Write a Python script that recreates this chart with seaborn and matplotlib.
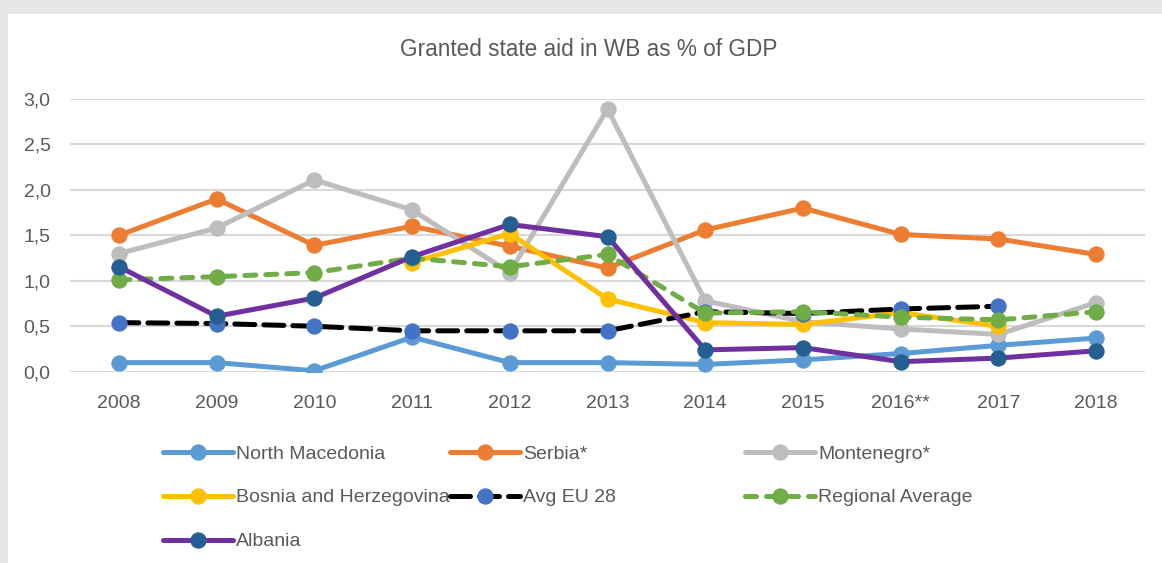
import numpy as np
import pandas as pd
import matplotlib
matplotlib.use('Agg')
import matplotlib.pyplot as plt
import seaborn as sns
from matplotlib.patches import Rectangle
from matplotlib.ticker import FuncFormatter

# Datos (NaN = sin dato)
years = ['2008', '2009', '2010', '2011', '2012', '2013', '2014', '2015', '2016**', '2017', '2018']
north_macedonia = [0.10, 0.10, 0.01, 0.38, 0.10, 0.10, 0.08, 0.13, 0.20, 0.29, 0.37]
serbia = [1.50, 1.90, 1.39, 1.60, 1.38, 1.14, 1.56, 1.80, 1.51, 1.46, 1.29]
montenegro = [1.30, 1.58, 2.11, 1.78, 1.09, 2.89, 0.78, 0.55, 0.47, 0.41, 0.76]
bosnia = [np.nan, np.nan, np.nan, 1.20, 1.52, 0.80, 0.54, 0.52, 0.65, 0.50, np.nan]
avg_eu28 = [0.54, 0.53, 0.50, 0.45, 0.45, 0.45, 0.66, 0.64, 0.69, 0.72, np.nan]
regional_avg = [1.01, 1.045, 1.09, 1.25, 1.155, 1.29, 0.645, 0.66, 0.60, 0.57, 0.66]
albania = [1.155, 0.61, 0.81, 1.265, 1.62, 1.485, 0.24, 0.265, 0.11, 0.15, 0.23]

series = [
    ('North Macedonia', north_macedonia, '#5B9BD5', '#5B9BD5', '-'),
    ('Serbia*', serbia, '#ED7D31', '#ED7D31', '-'),
    ('Montenegro*', montenegro, '#BDBDBD', '#BDBDBD', '-'),
    ('Bosnia and Herzegovina', bosnia, '#FFC000', '#FFC000', '-'),
    ('Avg EU 28', avg_eu28, '#000000', '#4472C4', (0, (4, 1.8))),
    ('Regional Average', regional_avg, '#70AD47', '#70AD47', (0, (2.2, 2.0))),
    ('Albania', albania, '#7030A0', '#255E91', '-'),
]

sns.set_style('white')
plt.rcParams['font.family'] = ['Liberation Sans', 'DejaVu Sans']

fig = plt.figure(figsize=(11.62, 5.63), dpi=100, facecolor='#E6E7E9')
# panel blanco
fig.patches.append(Rectangle((8 / 1162, 0), 1, 1 - 14 / 563, transform=fig.transFigure,
                             facecolor='white', edgecolor='none', zorder=-10))

ax = fig.add_axes([70 / 1162, 1 - 371.7 / 563, (1145 - 70) / 1162, (371.7 - 99) / 563])
ax.set_facecolor('none')

handles = {}
for name, vals, lc, mc, ls in series:
    d = pd.DataFrame({'year': years, 'value': vals})
    sns.lineplot(data=d, x='year', y='value', ax=ax, color=lc, linewidth=3.6,
                 linestyle=ls, marker='o', markersize=11, markerfacecolor=mc,
                 markeredgecolor=mc, dash_capstyle='round', sort=False)
    handles[name] = ax.lines[-1]

ax.set_xlim(-0.5, 10.5)
ax.set_ylim(0, 3.0)
ax.set_yticks(np.arange(0, 3.01, 0.5))
ax.yaxis.set_major_formatter(FuncFormatter(lambda v, p: f'{v:.1f}'.replace('.', ',')))
ax.grid(axis='y', color='#D9D9D9', linewidth=1.5)
ax.grid(axis='x', visible=False)
ax.set_axisbelow(True)
sns.despine(ax=ax, left=True, bottom=True)
ax.tick_params(axis='both', length=0, labelsize=14, colors='#595959')
ax.tick_params(axis='y', pad=14)
ax.tick_params(axis='x', pad=17)
ax.set_xlabel('')
ax.set_ylabel('')

fig.text(0.507, 1 - 50 / 563, 'Granted state aid in WB as % of GDP', ha='center', va='center',
         fontsize=16.3, color='#595959')

# leyenda en tres columnas, como en Excel
cols = [
    (163, ['North Macedonia', 'Bosnia and Herzegovina', 'Albania']),
    (450, ['Serbia*', 'Avg EU 28']),
    (745, ['Montenegro*', 'Regional Average']),
]
for xpos, names in cols:
    leg = fig.legend([handles[n] for n in names], names, loc='upper left',
                     bbox_to_anchor=(xpos / 1162, 1 - 445 / 563), frameon=False,
                     borderpad=0, borderaxespad=0, handlelength=3.6, handletextpad=0.15,
                     labelspacing=1.35, fontsize=14, labelcolor='#595959')

fig.savefig('out.png', dpi=100, facecolor=fig.get_facecolor())
